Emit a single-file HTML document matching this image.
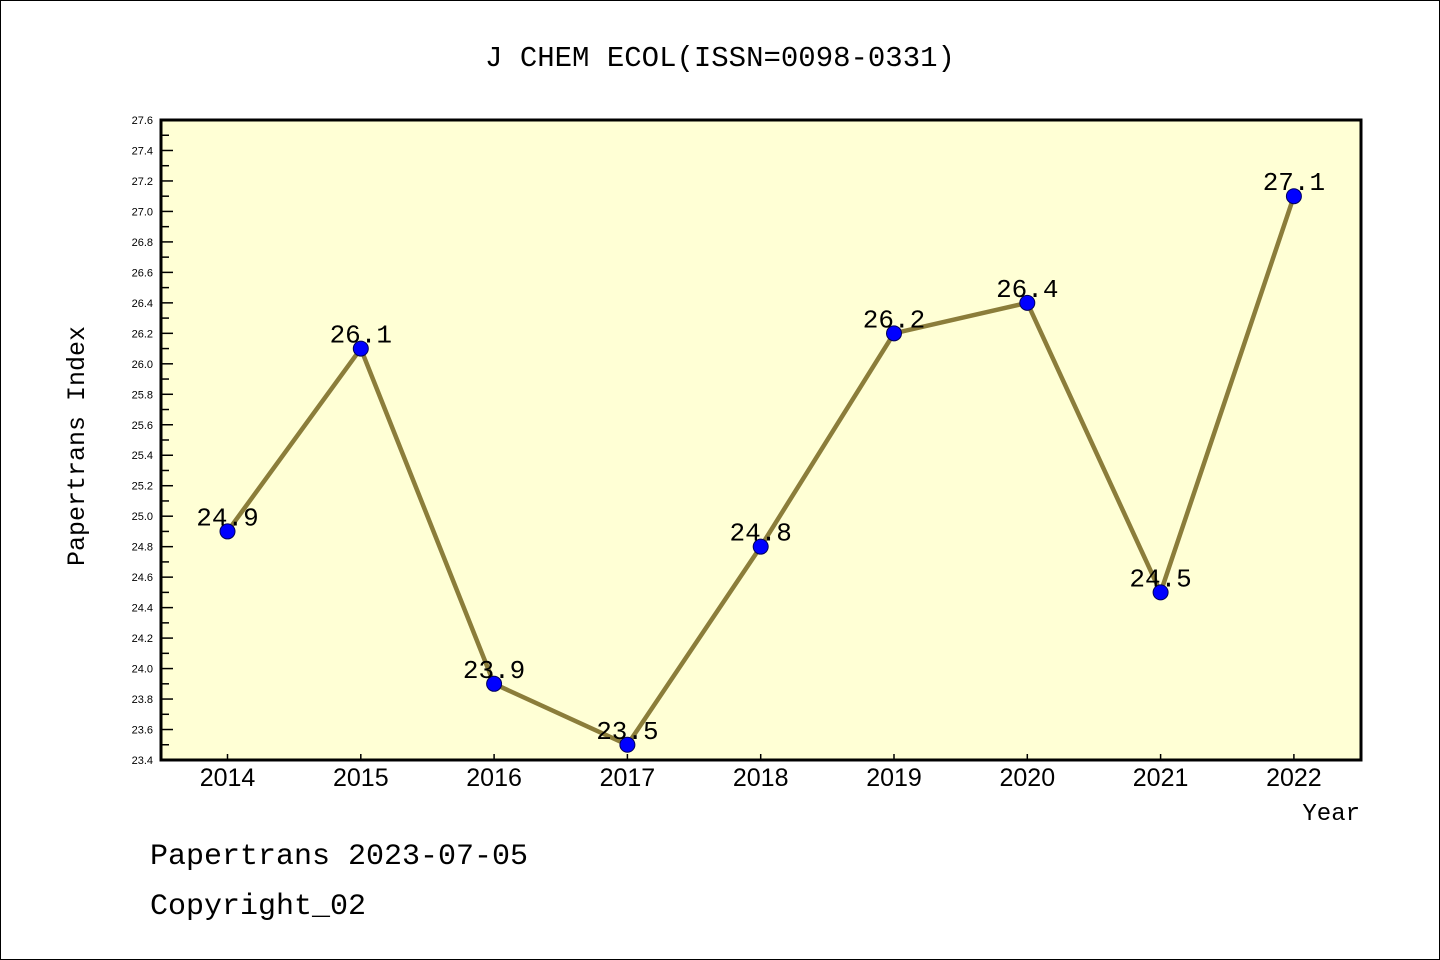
<!DOCTYPE html>
<html><head><meta charset="utf-8"><style>
body{margin:0;background:#fff}
svg{display:block}
</style></head><body>
<svg id="c" width="1440" height="960" xmlns="http://www.w3.org/2000/svg">
<rect x="0.5" y="0.5" width="1439" height="959" fill="#fff" stroke="#000"/>
<text x="720" y="66" text-anchor="middle" font-family="Liberation Mono, monospace" font-size="29">J CHEM ECOL(ISSN=0098-0331)</text>
<rect x="161" y="120" width="1200" height="640" fill="#ffffd5" stroke="#000" stroke-width="3"/>
<g id="yt"></g><g id="xt"></g><g id="series"></g>
<text transform="translate(84,446) rotate(-90)" text-anchor="middle" font-family="Liberation Mono, monospace" font-size="25">Papertrans Index</text>
<text x="1360" y="820" text-anchor="end" font-family="Liberation Mono, monospace" font-size="24">Year</text>
<text x="150" y="864" font-family="Liberation Mono, monospace" font-size="30">Papertrans 2023-07-05</text>
<text x="150" y="914" font-family="Liberation Mono, monospace" font-size="30">Copyright_02</text>
</svg>
<script>
const years=["2014","2015","2016","2017","2018","2019","2020","2021","2022"];
const values=[24.9,26.1,23.9,23.5,24.8,26.2,26.4,24.5,27.1];
const labels=["24.9","26.1","23.9","23.5","24.8","26.2","26.4","24.5","27.1"];
const yMin=23.4,yMax=27.6;
const NS="http://www.w3.org/2000/svg";
function X(i){return 227.5+i*133.3;}
function Y(v){return 760-(v-yMin)/(yMax-yMin)*640;}
function mk(t,a,p){const e=document.createElementNS(NS,t);for(const k in a)e.setAttribute(k,a[k]);p.appendChild(e);return e;}
const yt=document.getElementById('yt');
for(let k=0;k<=42;k++){
  const v=yMin+k*0.1,y=Y(v),maj=k%2==0;
  const l=mk('line',{x1:161,x2:161+(maj?12:8),y1:y,y2:y,stroke:'#000','stroke-width':1.5},yt);
  
  
  if(maj){const t=mk('text',{x:153,y:y+4,'text-anchor':'end','font-family':'Liberation Sans, sans-serif','font-size':11},yt);t.textContent=v.toFixed(1);
  
  }
}
const xt=document.getElementById('xt');
years.forEach((yr,i)=>{
  const l=mk('line',{x1:X(i),x2:X(i),y1:760,y2:754,stroke:'#000','stroke-width':1.5},xt);
  
  
  const t=mk('text',{x:X(i),y:786,'text-anchor':'middle','font-family':'Liberation Sans, sans-serif','font-size':25},xt);t.textContent=yr;
  
  
});
const s=document.getElementById('series');
const pl=mk('polyline',{points:values.map((v,i)=>X(i)+','+Y(v)).join(' '),fill:'none',stroke:'#8b7d3a','stroke-width':4.5},s);


values.forEach((v,i)=>{
  const c=mk('circle',{cx:X(i),cy:Y(v),r:7.5,fill:'#0000ff',stroke:'#00005a','stroke-width':1},s);
  
  
  const t=mk('text',{x:X(i),y:Y(v)-6,'text-anchor':'middle','font-family':'Liberation Mono, monospace','font-size':26},s);t.textContent=labels[i];
  
  
});
</script>
</body></html>
